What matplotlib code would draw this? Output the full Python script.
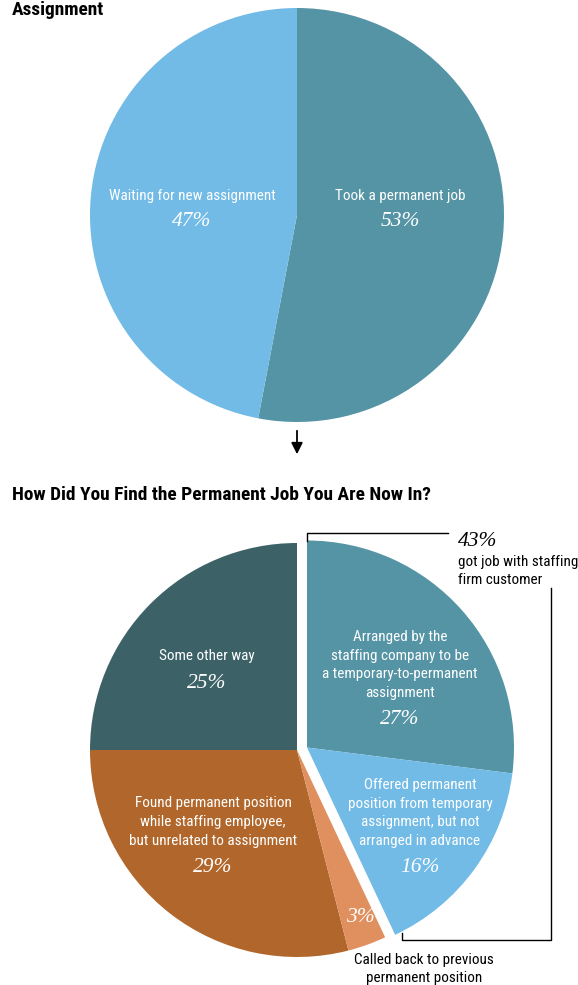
import matplotlib.pyplot as plt
from matplotlib import font_manager as fm

# datos del primer gráfico
top_labels = ['Took a permanent job', 'Waiting for new assignment']
top_values = [53, 47]
top_colors = ['#5594a5', '#72bbe6']

# datos del segundo gráfico: parte fija (antihorario desde arriba)
rest_labels = ['Some other way',
               'Found permanent position\nwhile staffing employee,\nbut unrelated to assignment',
               'Called back to previous\npermanent position']
rest_values = [25, 29, 3]
rest_colors = ['#3c6268', '#b1672b', '#e0905e']

# parte separada (horario desde arriba): 43% con clientes de la empresa
split_labels = ['Arranged by the\nstaffing company to be\na temporary-to-permanent\nassignment',
                'Offered permanent\nposition from temporary\nassignment, but not\narranged in advance']
split_values = [27, 16]
split_colors = ['#5594a5', '#72bbe6']
split_total = sum(split_values)

W, H = 578, 985
R = 207

# buscar una fuente estrecha si la hay
names = {f.name for f in fm.fontManager.ttflist}
narrow = [n for n in ['Liberation Sans Narrow', 'DejaVu Sans Condensed', 'Roboto Condensed']
          if n in names]
dv_cond = any(f.name == 'DejaVu Sans' and f.stretch in ('condensed', 600, 'semi-condensed')
              for f in fm.fontManager.ttflist)
if narrow:
    cond = [narrow[0], 'DejaVu Sans']
    fs, fs_t, stretch = 10, 14.5, 'normal'
elif dv_cond:
    cond = ['DejaVu Sans']
    fs, fs_t, stretch = 9.5, 14, 'condensed'
else:
    cond = ['Roboto', 'DejaVu Sans']
    fs, fs_t, stretch = 9.5, 13, 'normal'
fs *= 1.09
fs_t *= 0.965
serif = ['Liberation Serif', 'DejaVu Serif']

fig = plt.figure(figsize=(W / 100, H / 100), dpi=100)
ax = fig.add_axes([0, 0, 1, 1])

def py(y):
    return H - y

# Pie superior
ax.pie([v / 100 for v in top_values], colors=top_colors, startangle=90, counterclock=False,
       normalize=False, radius=R, center=(297, py(215)), wedgeprops=dict(linewidth=0))

# Pie inferior
ax.pie([v / 100 for v in rest_values], colors=rest_colors, startangle=90, counterclock=True,
       normalize=False, radius=R, center=(297, py(750)), wedgeprops=dict(linewidth=0))
ax.pie([v / 100 for v in split_values], colors=split_colors, startangle=90, counterclock=False,
       normalize=False, radius=R, center=(307, py(747.5)), wedgeprops=dict(linewidth=0))

ax.set_xlim(0, W)
ax.set_ylim(0, H)
ax.set_aspect('equal')
ax.axis('off')

def lab(x, y, s, color='white', ha='center', va='center'):
    ax.text(x, py(y), s, color=color, ha=ha, va=va, fontsize=fs, family=cond,
            fontstretch=stretch, linespacing=1.42)

def pct(x, y, v, color='white', ha='center'):
    ax.text(x, py(y), f'{v}%', color=color, ha=ha, va='center', fontsize=15.5,
            family=serif, style='italic')

lab(192, 196, top_labels[1])
pct(192, 221, top_values[1])
lab(400, 196, top_labels[0])
pct(400, 221, top_values[0])

ax.text(12, py(10), 'Assignment', fontsize=fs_t, fontweight='bold', family=cond,
        fontstretch=stretch, va='center', ha='left')

# Flecha
ax.annotate('', xy=(297, py(457)), xytext=(297, py(428)),
            arrowprops=dict(arrowstyle='-|>', color='black', lw=1.3, mutation_scale=17))

ax.text(12, py(495), 'How Did You Find the Permanent Job You Are Now In?', fontsize=fs_t,
        fontweight='bold', family=cond, fontstretch=stretch, va='center', ha='left')

lab(207, 656, rest_labels[0])
pct(207, 683, rest_values[0])
lab(213, 822, rest_labels[1])
pct(213, 867, rest_values[1])
lab(400, 665, split_labels[0])
pct(400, 720, split_values[0])
lab(420, 813, split_labels[1])
pct(420, 867, split_values[1])
pct(360, 917, rest_values[2])
lab(424, 969, rest_labels[2], color='black')

# Corchete del 43%
ax.plot([307, 307, 448], [py(541), py(533), py(533)], color='black', lw=1)
ax.plot([551, 551, 402, 402], [py(588), py(940), py(940), py(933)], color='black', lw=1)
pct(458, 541, split_total, color='black', ha='left')
lab(458, 571, 'got job with staffing\nfirm customer', color='black', ha='left')

fig.savefig('out.png', dpi=100)
